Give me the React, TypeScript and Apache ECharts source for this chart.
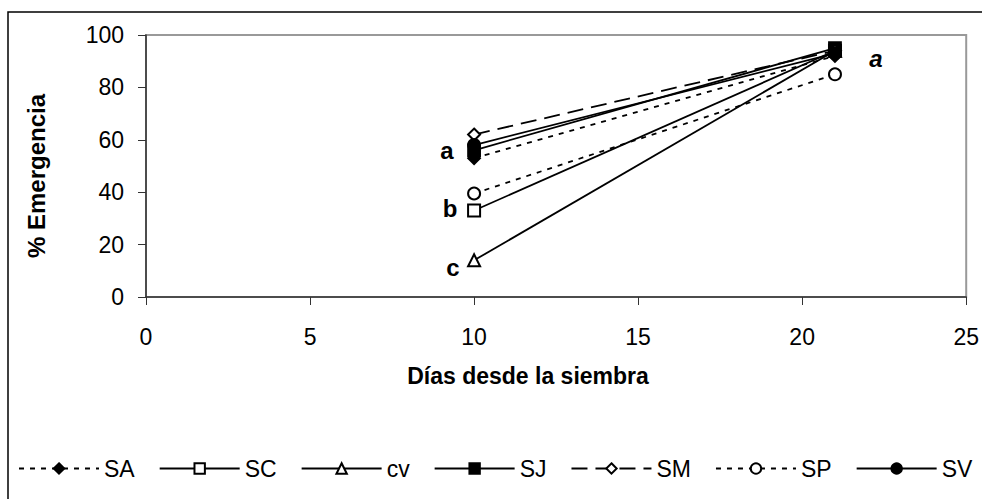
import React, { useEffect, useRef } from "react";
import * as echarts from "echarts";

const days = [10, 21];
const seriesNames = ["SA", "SC", "cv", "SJ", "SM", "SP", "SV"];
const SA = [53, 92];
const SC = [33, 94];
const cv = [14, 94];
const SJ = [56, 95];
const SM = [62, 94];
const SP = [39.5, 85];
const SV = [58, 93];
const xTicks = [0, 5, 10, 15, 20, 25];
const yTicks = [0, 20, 40, 60, 80, 100];
const groupLabels = ["a", "b", "c"];

const FONT = "'Liberation Sans', Arial, sans-serif";

export default function App() {
  const ref = useRef<HTMLDivElement>(null);
  useEffect(() => {
    if (!ref.current) return;
    const chart = echarts.init(ref.current, null, { renderer: "svg" });
    const valuesList = [SA, SC, cv, SJ, SM, SP, SV];
    const styles: any[] = [
      { symbol: "diamond", type: [5, 6] },
      { symbol: "emptyRect", type: "solid" },
      { symbol: "emptyTriangle", type: "solid" },
      { symbol: "rect", type: "solid" },
      { symbol: "emptyDiamond", type: [16, 8] },
      { symbol: "emptyCircle", type: [5, 6] },
      { symbol: "circle", type: "solid" },
    ];
    const series = seriesNames.map((name, i) => ({
      name,
      type: "line",
      data: days.map((d, j) => [d, valuesList[i][j]]),
      symbol: styles[i].symbol,
      symbolSize: 12,
      lineStyle: { color: "#000", width: 1.8, type: styles[i].type },
      itemStyle: { color: "#000", borderColor: "#000", borderWidth: 1.8 },
      z: 2,
    }));
    const option: any = {
      animation: false,
      backgroundColor: "#fff",
      textStyle: { fontFamily: FONT },
      grid: {
        left: 146,
        top: 35,
        width: 825,
        height: 262,
        show: true,
        borderColor: "#999",
        borderWidth: 2,
      },
      xAxis: {
        type: "value",
        min: xTicks[0],
        max: xTicks[xTicks.length - 1],
        interval: 5,
        axisLine: { show: true, onZero: false, lineStyle: { color: "#333", width: 1.5 } },
        axisTick: { show: true, length: 8, lineStyle: { color: "#333" } },
        axisLabel: { fontSize: 23, color: "#000", margin: 28, fontFamily: FONT },
        splitLine: { show: false },
      },
      yAxis: {
        type: "value",
        min: yTicks[0],
        max: yTicks[yTicks.length - 1],
        interval: 20,
        axisLine: { show: true, lineStyle: { color: "#333", width: 1.5 } },
        axisTick: { show: true, length: 8, lineStyle: { color: "#333" } },
        axisLabel: { fontSize: 23, color: "#000", margin: 22, fontFamily: FONT },
        splitLine: { show: false },
      },
      legend: {
        data: seriesNames,
        left: 18,
        top: 457,
        width: 964,
        padding: 0,
        itemWidth: 80,
        itemHeight: 13,
        itemGap: 24,
        textStyle: { fontSize: 23, color: "#000", fontFamily: FONT },
      },
      series,
      graphic: [
        {
          type: "rect",
          shape: { x: 8, y: 12, width: 1000, height: 520 },
          style: { fill: "none", stroke: "#000", lineWidth: 1.5 },
          silent: true,
          z: -10,
        },
        {
          type: "text",
          x: 528,
          y: 376,
          style: {
            text: "Días desde la siembra",
            font: `bold 23px ${FONT}`,
            fill: "#000",
            align: "center",
            verticalAlign: "middle",
          },
        },
        {
          type: "text",
          x: 36,
          y: 176,
          rotation: Math.PI / 2,
          style: {
            text: "% Emergencia",
            font: `bold 24px ${FONT}`,
            fill: "#000",
            align: "center",
            verticalAlign: "middle",
          },
        },
        ...groupLabels.map((t, i) => ({
          type: "text",
          x: 447 + i * 3,
          y: [150, 208, 267][i],
          style: {
            text: t,
            font: `bold 24px ${FONT}`,
            fill: "#000",
            align: "center",
            verticalAlign: "middle",
          },
        })),
        {
          type: "text",
          x: 876,
          y: 58,
          style: {
            text: "a",
            font: `italic bold 24px ${FONT}`,
            fill: "#000",
            align: "center",
            verticalAlign: "middle",
          },
        },
      ],
    };
    chart.setOption(option);
    return () => chart.dispose();
  }, []);
  return (
    <div
      ref={ref}
      style={{ position: "absolute", left: 0, top: 0, width: 982, height: 499 }}
    />
  );
}
